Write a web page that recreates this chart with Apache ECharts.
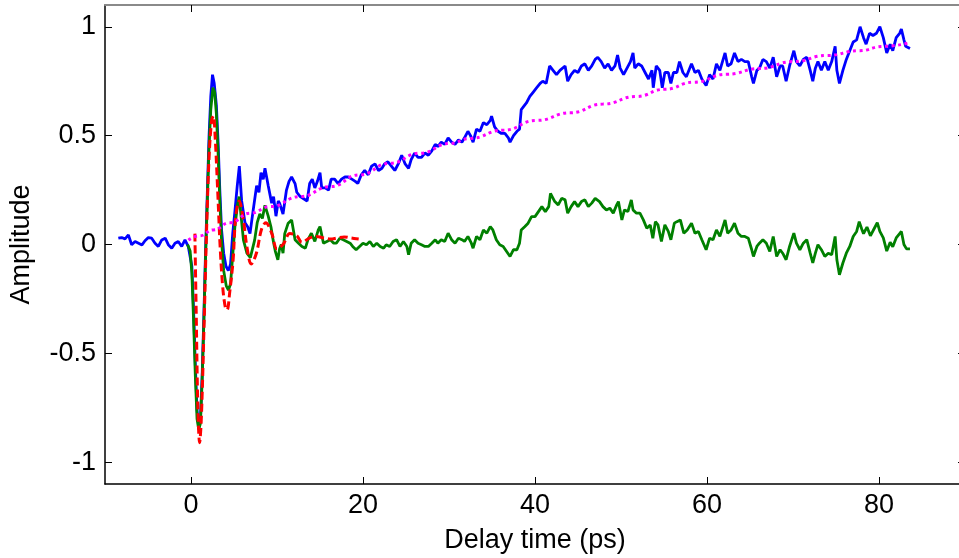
<!DOCTYPE html>
<html>
<head>
<meta charset="utf-8">
<script src="https://cdn.jsdelivr.net/npm/echarts@6/dist/echarts.min.js"></script>
<style>
  html, body { margin: 0; padding: 0; background: #fff; }
  #chart { width: 959px; height: 558px; }
</style>
</head>
<body>
<div id="chart"></div>
<script>
// Tick positions
const xTicks = [0, 20, 40, 60, 80];
const yTicks = [-1, -0.5, 0, 0.5, 1];

// Measured signal [delay (ps), amplitude]
const measured = [[-8.45,0.029],[-8.06,0.032],[-7.67,0.026],[-7.28,0.044],[-6.9,-0.001],[-6.5,0.014],[-6.1,0.006],[-5.7,-0.002],[-5.35,0.017],[-4.96,0.032],[-4.57,0.029],[-4.18,0.006],[-3.8,-0.009],[-3.4,0.021],[-3.0,0.029],[-2.64,-0.001],[-2.24,-0.017],[-1.86,0.006],[-1.48,0.014],[-1.08,-0.009],[-0.7,0.021],[-0.31,-0.01],[-0.1,-0.01],[0.1,-0.1],[0.3,-0.3],[0.5,-0.55],[0.7,-0.76],[0.9,-0.84],[1.1,-0.8],[1.3,-0.6],[1.5,-0.32],[1.7,-0.02],[1.9,0.24],[2.1,0.5],[2.3,0.68],[2.5,0.78],[2.7,0.74],[2.95,0.64],[3.15,0.47],[3.35,0.25],[3.55,0.07],[3.8,-0.04],[4.07,-0.1],[4.34,-0.12],[4.6,-0.09],[4.85,0.05],[5.1,0.15],[5.38,0.27],[5.62,0.36],[5.89,0.2],[6.28,0.1],[6.6,0.08],[6.86,0.05],[7.24,0.16],[7.63,0.27],[7.9,0.24],[8.14,0.33],[8.4,0.3],[8.6,0.35],[8.98,0.27],[9.38,0.19],[9.6,0.22],[9.88,0.13],[10.15,0.2],[10.3,0.19],[10.7,0.14],[11.1,0.25],[11.4,0.29],[11.7,0.31],[12.1,0.28],[12.3,0.24],[12.7,0.22],[13.1,0.21],[13.5,0.2],[13.8,0.28],[14.1,0.3],[14.4,0.26],[14.7,0.29],[15.0,0.33],[15.2,0.26],[15.6,0.26],[16.0,0.25],[16.3,0.3],[16.7,0.3],[17.1,0.28],[17.5,0.3],[17.9,0.31],[18.3,0.31],[18.7,0.3],[19.1,0.29],[19.4,0.28],[19.8,0.32],[20.2,0.34],[20.6,0.32],[21.0,0.36],[21.4,0.37],[21.8,0.34],[22.2,0.35],[22.5,0.37],[22.9,0.38],[23.3,0.36],[23.7,0.34],[24.1,0.37],[24.5,0.41],[24.9,0.37],[25.3,0.35],[25.6,0.39],[26.0,0.42],[26.4,0.4],[26.8,0.4],[27.2,0.42],[27.6,0.41],[28.0,0.43],[28.4,0.46],[28.7,0.45],[29.1,0.47],[29.5,0.46],[29.9,0.49],[30.3,0.47],[30.7,0.46],[31.1,0.48],[31.5,0.47],[31.8,0.49],[32.2,0.52],[32.5,0.5],[32.8,0.47],[33.2,0.53],[33.6,0.52],[34.0,0.56],[34.4,0.55],[34.8,0.57],[34.95,0.59],[35.3,0.54],[35.7,0.52],[36.1,0.51],[36.5,0.51],[36.9,0.49],[37.1,0.47],[37.5,0.5],[37.9,0.52],[38.2,0.53],[38.4,0.62],[38.6,0.63],[39.0,0.65],[39.4,0.68],[39.8,0.7],[40.2,0.72],[40.6,0.74],[40.9,0.75],[41.3,0.74],[41.7,0.82],[42.1,0.8],[42.5,0.78],[42.9,0.8],[43.5,0.82],[43.8,0.75],[44.2,0.78],[44.6,0.8],[45.0,0.79],[45.4,0.82],[45.8,0.83],[46.2,0.8],[46.6,0.82],[47.0,0.85],[47.3,0.86],[47.7,0.84],[48.1,0.81],[48.5,0.83],[48.9,0.8],[49.3,0.82],[49.6,0.87],[49.9,0.81],[50.3,0.78],[50.7,0.81],[51.1,0.84],[51.4,0.88],[51.6,0.81],[52.0,0.83],[52.4,0.82],[52.8,0.79],[53.2,0.76],[53.6,0.8],[53.75,0.72],[54.1,0.82],[54.5,0.8],[54.8,0.72],[55.1,0.79],[55.5,0.79],[55.8,0.74],[56.1,0.79],[56.5,0.79],[56.8,0.84],[57.2,0.79],[57.6,0.77],[58.2,0.83],[58.6,0.79],[59.0,0.8],[59.4,0.76],[59.9,0.73],[60.3,0.78],[60.7,0.76],[61.1,0.83],[61.5,0.8],[62.1,0.88],[62.4,0.82],[62.8,0.83],[63.2,0.88],[63.6,0.84],[64.0,0.85],[64.4,0.84],[64.8,0.84],[65.2,0.77],[65.4,0.74],[65.8,0.8],[66.1,0.81],[66.5,0.85],[66.9,0.84],[67.3,0.81],[67.7,0.86],[68.1,0.77],[68.5,0.82],[68.8,0.82],[69.2,0.75],[69.6,0.82],[70.1,0.89],[70.4,0.84],[70.8,0.82],[71.2,0.85],[71.6,0.86],[72.0,0.8],[72.3,0.75],[72.6,0.81],[72.9,0.84],[73.3,0.8],[73.7,0.84],[74.1,0.8],[74.5,0.84],[74.9,0.91],[75.1,0.8],[75.4,0.74],[75.8,0.8],[76.2,0.85],[76.6,0.89],[77.0,0.93],[77.4,0.94],[77.8,1.0],[78.2,0.95],[78.5,0.92],[78.9,0.97],[79.3,0.96],[79.7,0.97],[80.1,1.0],[80.5,0.95],[80.9,0.88],[81.3,0.92],[81.6,0.89],[82.0,0.95],[82.4,0.97],[82.6,0.99],[82.9,0.94],[83.1,0.91],[83.6,0.9]];

// Signal with the slow background removed
const residual = [[-0.4,0.0],[-0.1,-0.03],[0.1,-0.13],[0.3,-0.35],[0.5,-0.6],[0.7,-0.8],[0.9,-0.85],[1.1,-0.82],[1.3,-0.62],[1.5,-0.35],[1.7,-0.05],[1.9,0.2],[2.1,0.45],[2.3,0.62],[2.55,0.72],[2.75,0.7],[2.95,0.6],[3.15,0.42],[3.35,0.2],[3.55,0.02],[3.8,-0.12],[4.1,-0.19],[4.35,-0.21],[4.6,-0.18],[4.85,-0.05],[5.1,0.08],[5.4,0.18],[5.6,0.22],[5.85,0.12],[6.1,0.02],[6.5,-0.04],[6.9,-0.06],[7.4,0.02],[7.7,0.1],[8.0,0.14],[8.3,0.12],[8.6,0.18],[8.98,0.13],[9.3,0.08],[9.55,0.02],[9.8,-0.03],[10.1,-0.07],[10.3,-0.02],[10.5,0.0],[10.7,-0.04],[10.9,0.05],[11.3,0.098],[11.7,0.113],[12.1,0.022],[12.5,0.006],[12.9,-0.009],[13.3,-0.017],[13.6,0.022],[14.0,0.052],[14.4,0.014],[14.8,0.067],[15.0,0.082],[15.4,0.006],[15.8,0.014],[16.2,0.022],[16.6,0.006],[16.9,0.006],[17.3,0.029],[17.7,0.022],[18.1,0.014],[18.5,0.006],[18.8,-0.009],[19.2,-0.024],[19.6,-0.009],[20.0,0.006],[20.4,-0.001],[20.8,0.014],[21.2,-0.009],[21.6,0.006],[22.0,-0.009],[22.4,-0.017],[22.7,-0.001],[23.1,-0.009],[23.5,0.014],[23.9,0.022],[24.3,-0.009],[24.7,0.014],[25.1,-0.009],[25.3,-0.047],[25.6,0.006],[26.0,0.022],[26.4,0.006],[26.8,-0.001],[27.2,-0.009],[27.6,-0.009],[28.0,0.006],[28.4,0.022],[28.7,0.006],[29.1,0.022],[29.5,0.014],[29.9,0.052],[30.3,0.022],[30.7,0.006],[31.1,0.029],[31.5,0.022],[31.8,0.014],[32.2,0.037],[32.6,0.006],[32.8,-0.017],[33.2,0.037],[33.6,0.022],[34.0,0.067],[34.4,0.052],[34.8,0.082],[35.1,0.067],[35.5,0.022],[35.9,-0.001],[36.3,-0.009],[36.7,-0.032],[37.1,-0.055],[37.5,-0.024],[37.9,-0.024],[38.2,0.006],[38.4,0.067],[38.8,0.082],[39.2,0.098],[39.6,0.128],[40.0,0.128],[40.4,0.151],[40.8,0.174],[41.2,0.151],[41.6,0.174],[41.8,0.235],[42.3,0.197],[42.7,0.182],[43.1,0.212],[43.5,0.205],[43.8,0.144],[44.2,0.174],[44.6,0.197],[45.0,0.174],[45.4,0.197],[45.8,0.205],[46.2,0.174],[46.6,0.19],[47.0,0.212],[47.1,0.22],[47.5,0.197],[47.9,0.174],[48.3,0.159],[48.7,0.167],[49.1,0.144],[49.5,0.182],[49.7,0.197],[50.1,0.113],[50.4,0.159],[50.8,0.151],[51.2,0.205],[51.4,0.159],[51.8,0.144],[52.2,0.144],[52.6,0.113],[53.0,0.075],[53.4,0.09],[53.7,0.029],[54.0,0.105],[54.3,0.09],[54.7,0.014],[55.1,0.09],[55.5,0.06],[55.8,0.022],[56.2,0.098],[56.5,0.105],[56.9,0.113],[57.3,0.052],[57.7,0.067],[58.2,0.098],[58.6,0.052],[59.0,0.06],[59.4,0.022],[59.9,-0.024],[60.3,0.029],[60.7,0.022],[61.1,0.067],[61.5,0.037],[62.1,0.113],[62.4,0.052],[62.8,0.067],[63.2,0.098],[63.6,0.052],[64.0,0.037],[64.4,0.037],[64.8,0.029],[65.2,-0.024],[65.4,-0.055],[65.8,-0.009],[66.1,0.006],[66.5,0.022],[66.9,0.006],[67.3,-0.032],[67.7,0.037],[68.1,-0.055],[68.5,-0.024],[68.8,-0.04],[69.2,-0.07],[69.6,-0.009],[70.1,0.052],[70.4,0.006],[70.8,-0.024],[71.2,0.006],[71.6,0.022],[72.0,-0.04],[72.3,-0.085],[72.6,-0.04],[72.9,-0.001],[73.3,-0.024],[73.7,-0.055],[74.1,-0.04],[74.5,-0.047],[74.9,0.037],[75.1,-0.07],[75.4,-0.139],[75.8,-0.085],[76.2,-0.04],[76.6,-0.009],[77.0,0.037],[77.4,0.06],[77.7,0.105],[78.0,0.07],[78.2,0.05],[78.6,0.08],[79.0,0.04],[79.4,0.07],[79.8,0.1],[80.1,0.06],[80.5,0.03],[80.9,-0.03],[81.3,0.01],[81.6,-0.01],[82.0,0.03],[82.4,0.05],[82.6,0.06],[82.9,0.0],[83.2,-0.02],[83.6,-0.02]];

// Damped oscillation fit
const oscFit = [[0.45,0.05],[0.6,-0.3],[0.8,-0.75],[1.0,-0.91],[1.2,-0.8],[1.5,-0.4],[1.8,0.05],[2.1,0.4],[2.4,0.57],[2.6,0.59],[2.8,0.5],[3.1,0.25],[3.4,-0.02],[3.7,-0.2],[4.0,-0.29],[4.2,-0.3],[4.5,-0.22],[4.9,-0.07],[5.2,0.13],[5.6,0.2],[6.1,0.11],[6.5,-0.01],[7.0,-0.09],[7.6,-0.04],[8.2,0.07],[8.7,0.1],[9.4,0.05],[10.0,-0.02],[10.7,0.0],[11.5,0.05],[12.3,0.04],[12.9,0.01],[13.8,0.03],[14.6,0.037],[15.4,0.03],[16.2,0.025],[17.0,0.03],[17.8,0.035],[18.6,0.03],[19.5,0.025]];

// Slow background fit
const background = [[-0.3,0.02],[1.0,0.04],[2.6,0.067],[4.5,0.1],[6.9,0.144],[9.2,0.174],[12.7,0.22],[16.2,0.266],[19.6,0.32],[23.1,0.373],[26.6,0.419],[30.1,0.464],[32.4,0.487],[36.3,0.525],[40.2,0.57],[44.1,0.605],[47.9,0.645],[51.8,0.68],[55.1,0.713],[58.4,0.745],[62.3,0.782],[66.1,0.808],[70.0,0.84],[73.9,0.868],[77.7,0.89],[80.5,0.91],[83.4,0.925]];

const FONT = '"Liberation Sans", Arial, sans-serif';
const chart = echarts.init(document.getElementById('chart'), null, { renderer: 'canvas' });

function ticks(values) {
  return { show: true, inside: true, length: 7, customValues: values, lineStyle: { color: '#000', width: 1 } };
}

chart.setOption({
  animation: false,
  backgroundColor: '#fff',
  // the right-hand frame edge sits just past the canvas, so no bounds clamping
  grid: { left: 105, top: 5, width: 860, height: 479, containLabel: false, outerBoundsMode: 'none' },
  xAxis: [
    {
      type: 'value', position: 'bottom', min: -10, max: 90,
      name: 'Delay time (ps)', nameLocation: 'middle', nameGap: 43,
      nameTextStyle: { fontFamily: FONT, fontSize: 27, color: '#000' },
      axisLine: { show: true, onZero: false, lineStyle: { color: '#000', width: 1.5 } },
      axisTick: ticks(xTicks),
      axisLabel: { customValues: xTicks, margin: 8, fontFamily: FONT, fontSize: 27, color: '#000' },
      splitLine: { show: false }
    },
    {
      type: 'value', position: 'top', min: -10, max: 90,
      axisLine: { show: true, onZero: false, lineStyle: { color: '#8a8a8a', width: 2 } },
      axisTick: ticks(xTicks),
      axisLabel: { show: false },
      splitLine: { show: false }
    }
  ],
  yAxis: [
    {
      type: 'value', position: 'left', min: -1.1, max: 1.1,
      name: 'Amplitude', nameLocation: 'middle', nameGap: 70, nameRotate: 90,
      nameTextStyle: { fontFamily: FONT, fontSize: 27, color: '#000' },
      axisLine: { show: true, onZero: false, lineStyle: { color: '#000', width: 1.5 } },
      axisTick: ticks(yTicks),
      axisLabel: { customValues: yTicks, margin: 9, fontFamily: FONT, fontSize: 27, color: '#000' },
      splitLine: { show: false }
    },
    {
      type: 'value', position: 'right', min: -1.1, max: 1.1,
      axisLine: { show: true, onZero: false, lineStyle: { color: '#000', width: 1.5 } },
      axisTick: ticks(yTicks),
      axisLabel: { show: false },
      splitLine: { show: false }
    }
  ],
  series: [
    {
      type: 'line', data: measured, showSymbol: false, symbol: 'none',
      lineStyle: { color: '#0000ff', width: 2.8 }, z: 2
    },
    {
      type: 'line', data: residual, showSymbol: false, symbol: 'none',
      lineStyle: { color: '#008000', width: 2.8 }, z: 3
    },
    {
      type: 'line', data: oscFit, showSymbol: false, symbol: 'none', smooth: 0.35,
      lineStyle: { color: '#ff0000', width: 3, type: [8, 4] }, z: 4
    },
    {
      type: 'line', data: background, showSymbol: false, symbol: 'none', smooth: true, smoothMonotone: 'x',
      lineStyle: { color: '#ff00ff', width: 3, type: [3, 3.5] }, z: 5
    }
  ]
});
</script>
</body>
</html>
